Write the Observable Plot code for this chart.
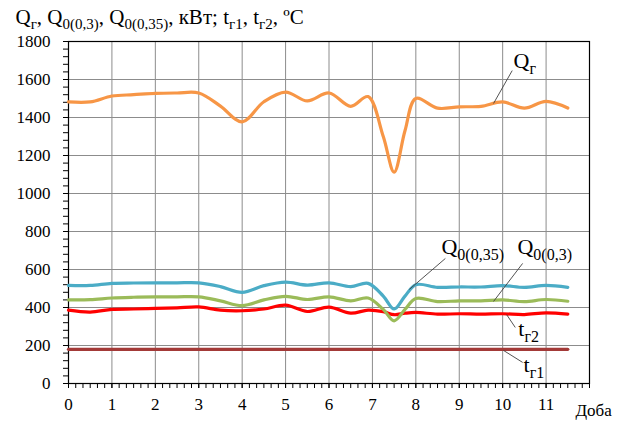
<!DOCTYPE html>
<html>
<head>
<meta charset="utf-8">
<script src="https://cdn.jsdelivr.net/npm/d3@7"></script>
<script src="https://cdn.jsdelivr.net/npm/@observablehq/plot@0.6"></script>
<style>
  body { margin: 0; background: #fff; }
  #chart { width: 624px; height: 421px; }
  #chart svg, #chart svg text { font-family: 'Liberation Serif', 'Times New Roman', serif !important; }
</style>
</head>
<body>
<div id="chart"></div>
<script>
// Day positions (Доба)
const days = [0, 0.5, 1, 1.5, 2, 2.5, 3, 3.5, 4, 4.5, 5, 5.5, 6, 6.5, 6.9, 7.25, 7.5, 7.75, 8, 8.5, 9, 9.5, 10, 10.5, 11, 11.5];

// Series values
const qG    = [1482, 1482, 1513, 1520, 1527, 1529, 1529, 1460, 1377, 1483, 1534, 1487, 1529, 1459, 1510, 1300, 1113, 1330, 1500, 1449, 1456, 1459, 1482, 1449, 1485, 1450];
const q035  = [516, 516, 527, 529, 530, 530, 530, 510, 480, 515, 534, 518, 530, 510, 527, 460, 392, 460, 520, 506, 508, 508, 515, 506, 516, 506];
const q03   = [440, 441, 450, 454, 456, 456, 456, 435, 410, 440, 459, 442, 456, 435, 450, 390, 330, 390, 447, 431, 435, 435, 440, 431, 442, 433];
const tG2   = [386, 376, 390, 392, 395, 398, 403, 386, 383, 392, 412, 379, 402, 370, 386, 378, 362, 370, 374, 365, 367, 365, 367, 363, 372, 365];
const tG1   = [180, 180, 180, 180, 180, 180, 180, 180, 180, 180, 180, 180, 180, 180, 180, 180, 180, 180, 180, 180, 180, 180, 180, 180, 180, 180];

const seriesNames  = ["tг1", "tг2", "Q0(0,3)", "Q0(0,35)", "Qг"];
const seriesValues = [tG1, tG2, q03, q035, qG];
const seriesColors = ["#A33A38", "#FF0000", "#9BBB59", "#4BACC6", "#F79646"];

// Axis ticks
const xTickLabels = [0, 1, 2, 3, 4, 5, 6, 7, 8, 9, 10, 11];
const xGrid = [1, 2, 3, 4, 5, 6, 7, 8, 9, 10, 11];
const yTickLabels = [0, 200, 400, 600, 800, 1000, 1200, 1400, 1600, 1800];
const yGrid = [200, 400, 600, 800, 1000, 1200, 1400, 1600];
const xMinorTicks = d3.range(0, 73).map(k => k / 6);
const yMinorTicks = d3.range(0, 1801, 40);

// Text (braces mark subscripts)
const titleText = "Q{г}, Q{0(0,3)}, Q{0(0,35)}, кВт; t{г1}, t{г2}, ºС";
const xAxisName = "Доба";

// Series labels and leader lines (data coordinates)
const labelText = ["Q{г}", "Q{0(0,35)}", "Q{0(0,3)}", "t{г2}", "t{г1}"];
const labelX    = [10.25, 8.59, 10.34, 10.36, 10.48];
const labelY    = [1700, 721, 721, 289, 95];
const leaderX1  = [10.22, 8.68, 10.46, 10.09, 10.02];
const leaderY1  = [1647, 658, 632, 363, 174];
const leaderX2  = [9.79, 7.85, 9.79, 10.29, 10.46];
const leaderY2  = [1474, 495, 432, 295, 111];

const rows = seriesNames.flatMap((name, i) =>
  days.map((d, j) => ({series: name, day: d, value: seriesValues[i][j]})));
const labels = labelText.map((t, i) => ({text: t, x: labelX[i], y: labelY[i]}));
const leaders = leaderX1.map((_, i) => ({x1: leaderX1[i], y1: leaderY1[i], x2: leaderX2[i], y2: leaderY2[i]}));

const serif = "'Liberation Serif', 'Times New Roman', serif";

const chart = Plot.plot({
  width: 624,
  height: 421,
  marginLeft: 68,
  marginRight: 35,
  marginTop: 41,
  marginBottom: 38,
  style: {fontFamily: serif, fontSize: "17px", color: "#000", background: "#fff"},
  x: {domain: [0, 12], label: null},
  y: {domain: [0, 1800], label: null},
  color: {domain: seriesNames, range: seriesColors},
  marks: [
    Plot.gridX({ticks: xGrid, stroke: "#8c8c8c", strokeOpacity: 1, strokeWidth: 1}),
    Plot.gridY({ticks: yGrid, stroke: "#8c8c8c", strokeOpacity: 1, strokeWidth: 1}),
    Plot.frame({stroke: "#000", strokeWidth: 1.2}),
    Plot.axisX({ticks: xMinorTicks, tickSize: 5, tickFormat: () => "", label: null, stroke: "#000"}),
    Plot.axisX({ticks: xTickLabels, tickSize: 5, tickPadding: 9, tickFormat: d => String(d), label: null, fontSize: 17, fill: "#000", stroke: "#000"}),
    Plot.axisY({ticks: yMinorTicks, tickSize: 5, tickFormat: () => "", label: null, stroke: "#000"}),
    Plot.axisY({ticks: yTickLabels, tickSize: 5, tickPadding: 13, tickFormat: d => String(d), label: null, fontSize: 17, fill: "#000", stroke: "#000"}),
    Plot.line(rows, {x: "day", y: "value", z: "series", stroke: "series", strokeWidth: 3.2, curve: "catmull-rom"}),
    Plot.link(leaders, {x1: "x1", y1: "y1", x2: "x2", y2: "y2", stroke: "#404040", strokeWidth: 0.9}),
    Plot.text(labels, {x: "x", y: "y", text: "text", textAnchor: "start", lineAnchor: "middle", fontSize: 22, fill: "#000"}),
    Plot.text([titleText], {frameAnchor: "top-left", text: d => d, textAnchor: "start", lineAnchor: "middle", dx: -53, dy: -24, fontSize: 21, fill: "#000"}),
    Plot.text([xAxisName], {frameAnchor: "bottom-right", text: d => d, textAnchor: "start", lineAnchor: "middle", dx: -14, dy: 27, fontSize: 17, fill: "#000"})
  ]
});

document.getElementById("chart").appendChild(chart);

// Turn {…} markup into subscript tspans
d3.select(chart).selectAll("text").each(function () {
  const s = this.textContent;
  if (!s.includes("{")) return;
  const size = parseFloat(getComputedStyle(this).fontSize) || 20;
  const subSize = Math.round(size * 0.72);
  const shift = Math.round(size * 0.26);
  while (this.firstChild) this.removeChild(this.firstChild);
  const parts = s.split(/(\{[^}]*\})/).filter(p => p.length);
  let lowered = false;
  for (const p of parts) {
    const ts = document.createElementNS("http://www.w3.org/2000/svg", "tspan");
    if (p.startsWith("{")) {
      ts.textContent = p.slice(1, -1);
      ts.setAttribute("font-size", subSize);
      if (!lowered) { ts.setAttribute("dy", shift); lowered = true; }
    } else {
      ts.textContent = p;
      if (lowered) { ts.setAttribute("dy", -shift); lowered = false; }
    }
    this.appendChild(ts);
  }
});
</script>
</body>
</html>
